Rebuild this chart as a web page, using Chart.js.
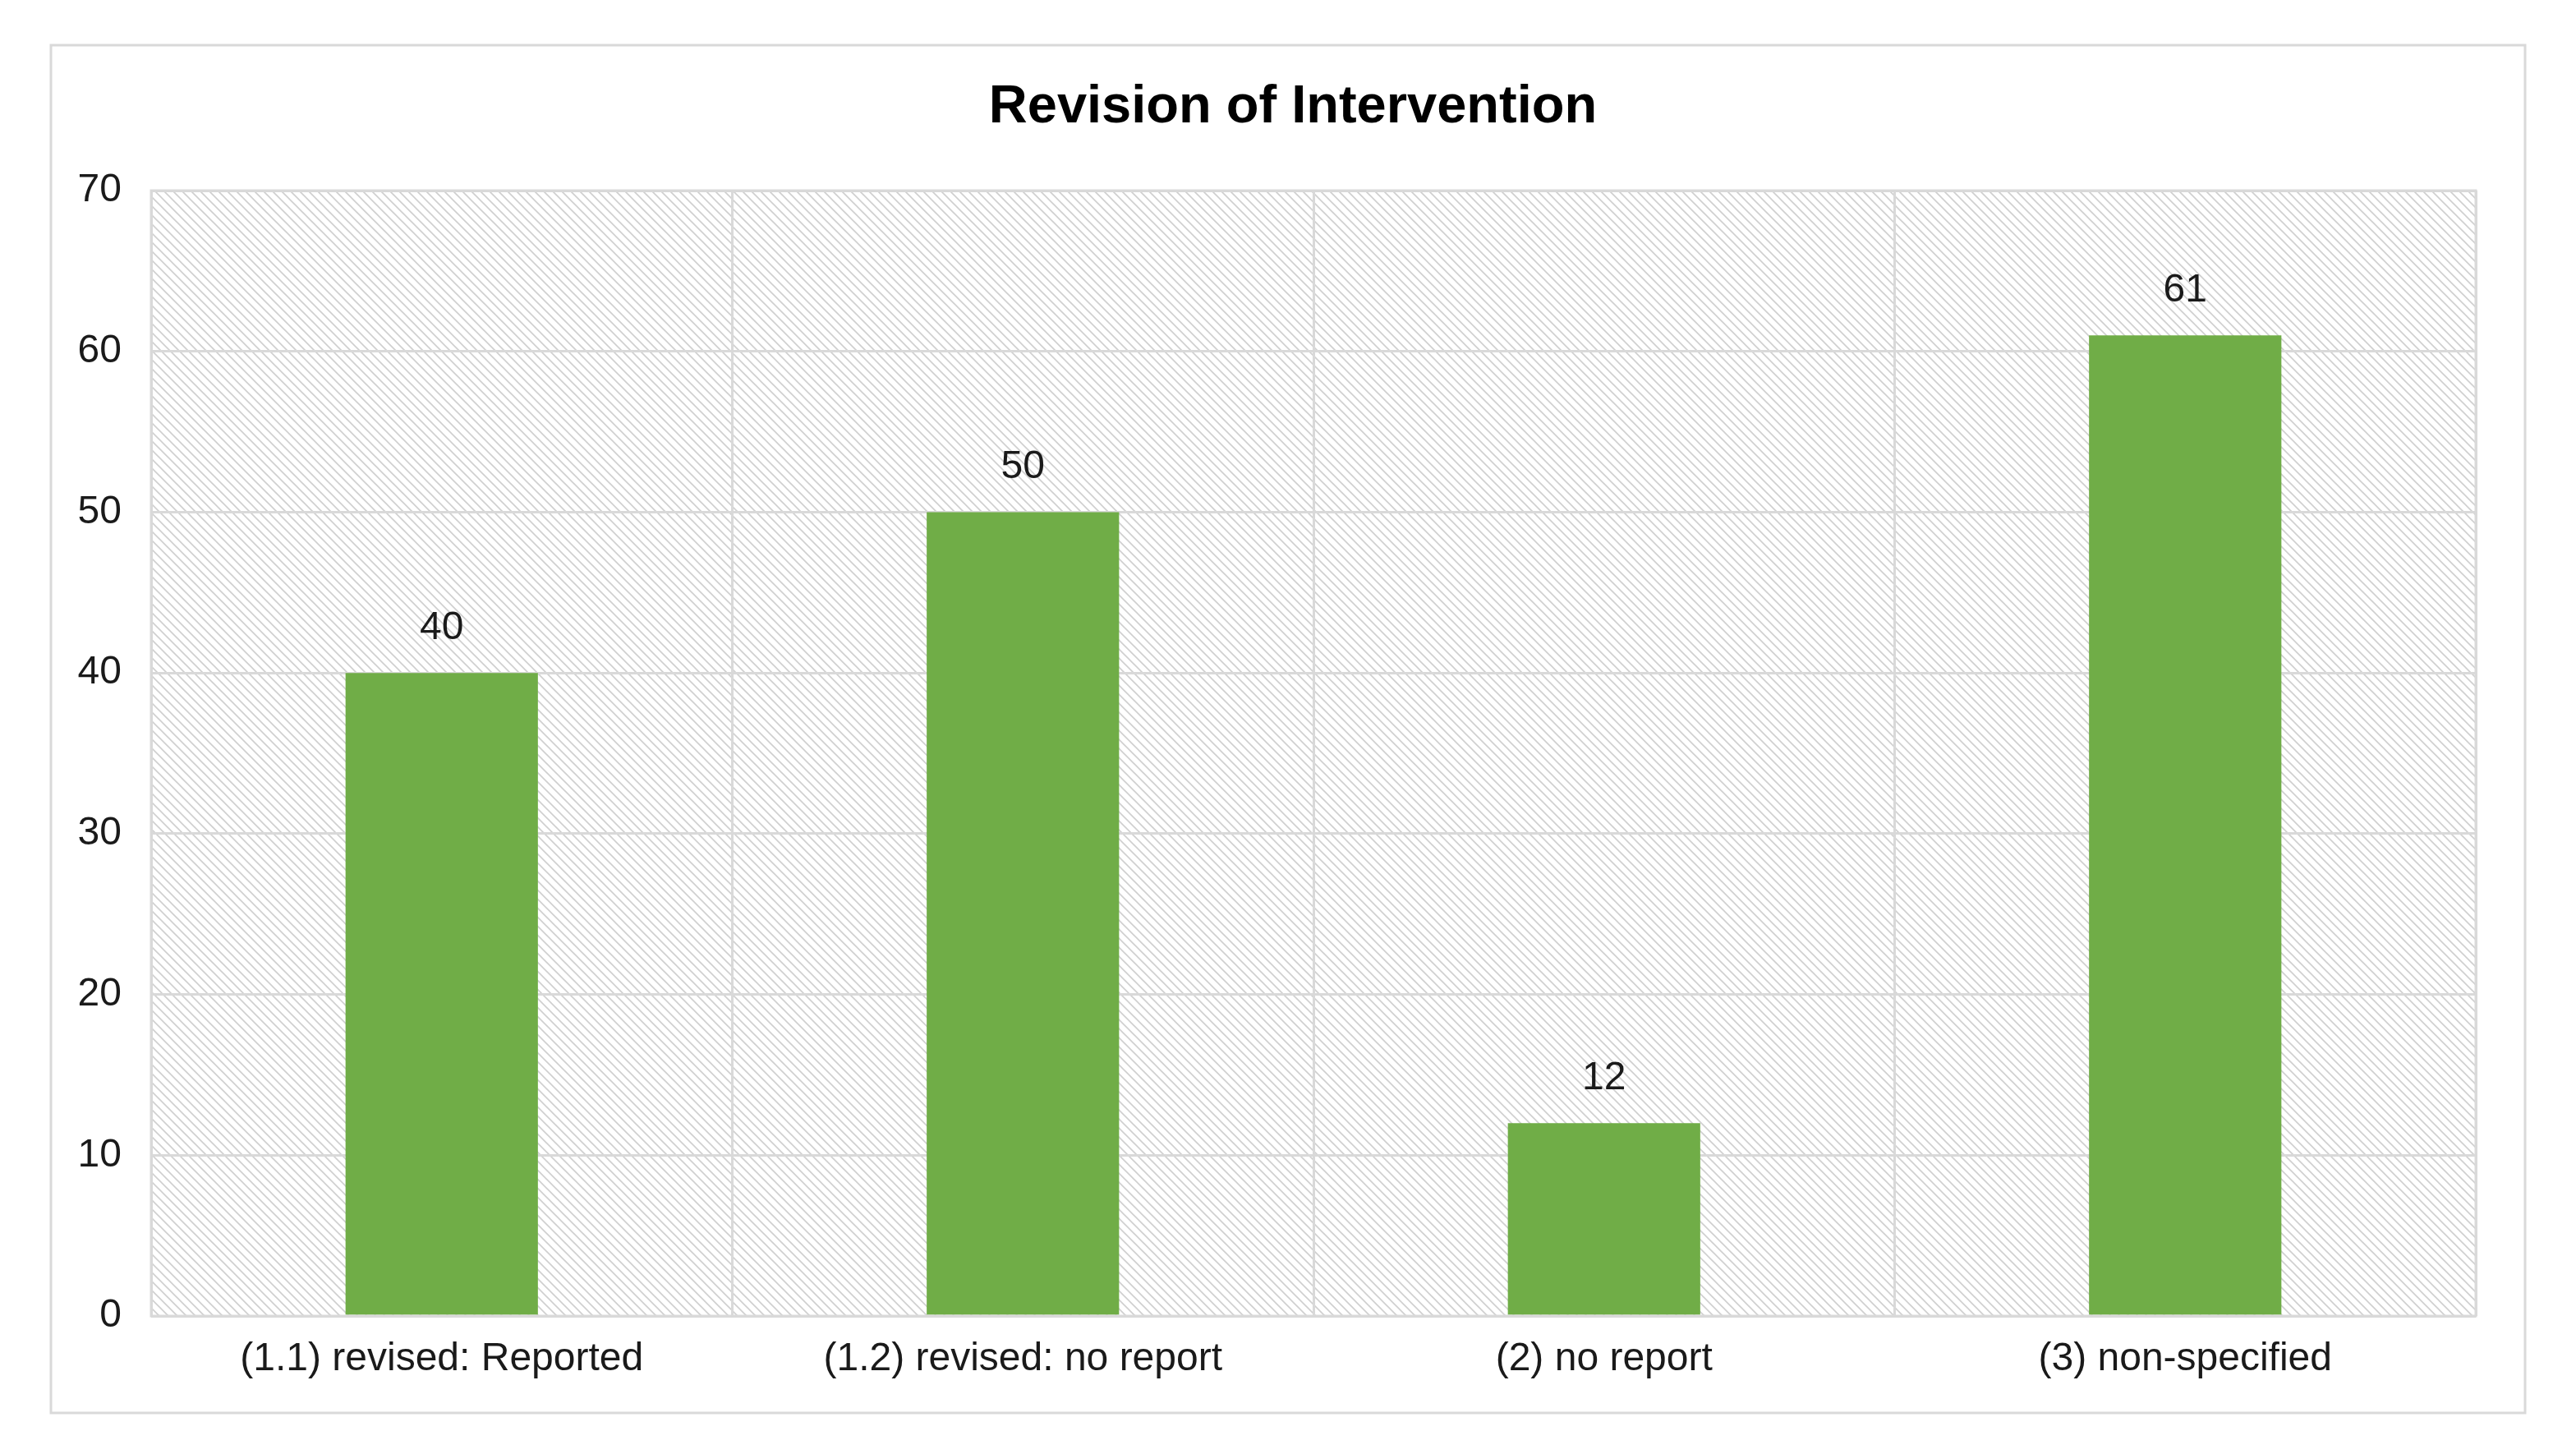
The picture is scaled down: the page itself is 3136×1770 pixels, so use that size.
<!DOCTYPE html>
<html>
<head>
<meta charset="utf-8">
<script src="https://cdn.jsdelivr.net/npm/chart.js@4/dist/chart.umd.min.js"></script>
<style>
html,body{margin:0;padding:0;background:#fff;}
#wrap{position:absolute;left:0;top:0;width:3136px;height:1770px;}
</style>
</head>
<body>
<div id="wrap"><canvas id="c" width="3136" height="1770"></canvas></div>
<script>
const categories = ["(1.1) revised: Reported", "(1.2) revised: no report", "(2) no report", "(3) non-specified"];
const values = [40, 50, 12, 61];
const yTicks = [0, 10, 20, 30, 40, 50, 60, 70];
const chartTitle = "Revision of Intervention";

const FONT = "'Liberation Sans', Arial, sans-serif";

function makeHatch(ctx) {
  const s = 11;
  const p = document.createElement('canvas');
  p.width = s; p.height = s;
  const g = p.getContext('2d');
  g.fillStyle = '#ffffff';
  g.fillRect(0, 0, s, s);
  g.strokeStyle = '#d0d0d0';
  g.lineWidth = 1.7;
  g.beginPath();
  g.moveTo(-2, -2); g.lineTo(s + 2, s + 2);
  g.moveTo(-2 - s, -2); g.lineTo(2, s + 2);
  g.moveTo(s - 2, -2); g.lineTo(2 * s + 2, s + 2);
  g.stroke();
  return ctx.createPattern(p, 'repeat');
}

const framePlugin = {
  id: 'frame',
  beforeDraw(chart) {
    const ctx = chart.ctx;
    ctx.save();
    ctx.fillStyle = '#fff';
    ctx.fillRect(0, 0, chart.width, chart.height);
    ctx.strokeStyle = '#d9d9d9';
    ctx.lineWidth = 3;
    ctx.strokeRect(62, 55, 3012, 1665);
    const a = chart.chartArea;
    ctx.fillStyle = makeHatch(ctx);
    ctx.fillRect(a.left, a.top, a.right - a.left, a.bottom - a.top);
    ctx.restore();
  },
  afterDraw(chart) {
    const ctx = chart.ctx;
    const a = chart.chartArea;
    ctx.save();
    ctx.strokeStyle = '#d9d9d9';
    ctx.lineWidth = 3;
    ctx.strokeRect(a.left, a.top, a.right - a.left, a.bottom - a.top);
    ctx.restore();
  }
};

const labelPlugin = {
  id: 'vals',
  afterDatasetsDraw(chart) {
    const ctx = chart.ctx;
    const meta = chart.getDatasetMeta(0);
    ctx.save();
    ctx.font = "48px " + FONT;
    ctx.fillStyle = '#1a1a1a';
    ctx.textAlign = 'center';
    ctx.textBaseline = 'alphabetic';
    meta.data.forEach((bar, i) => {
      ctx.fillText(String(values[i]), bar.x, bar.y - 41);
    });
    ctx.restore();
  }
};

new Chart(document.getElementById('c'), {
  type: 'bar',
  data: {
    labels: categories,
    datasets: [{
      data: values,
      backgroundColor: '#70ad47',
      borderWidth: 0,
      barPercentage: 0.331,
      categoryPercentage: 1.0
    }]
  },
  options: {
    responsive: false,
    animation: false,
    devicePixelRatio: 1,
    layout: { padding: { left: 60, right: 48, top: 72, bottom: 0 } },
    plugins: {
      legend: { display: false },
      tooltip: { enabled: false },
      title: {
        display: true,
        text: chartTitle,
        color: '#000',
        font: { family: FONT, size: 65, weight: 'bold', lineHeight: 1.2 },
        padding: { top: 20, bottom: 62 }
      }
    },
    scales: {
      x: {
        grid: { display: true, color: '#d9d9d9', lineWidth: 3, drawTicks: false, offset: true },
        border: { display: false },
        ticks: { color: '#1a1a1a', font: { family: FONT, size: 48 }, padding: 24, maxRotation: 0, autoSkip: false },
        afterFit(scale) { scale.height = 168; }
      },
      y: {
        min: 0, max: 70,
        afterBuildTicks(scale) { scale.ticks = yTicks.map(v => ({ value: v })); },
        grid: { color: '#d9d9d9', lineWidth: 3, drawTicks: false },
        border: { display: false },
        ticks: { color: '#1a1a1a', font: { family: FONT, size: 48 }, padding: 36 },
        afterFit(scale) { scale.width = 124; }
      },
      y2: {
        type: 'linear',
        position: 'right',
        display: true,
        min: 0, max: 70,
        grid: { display: false, drawTicks: false },
        border: { display: false },
        ticks: { display: false },
        afterFit(scale) { scale.width = 74; }
      }
    }
  },
  plugins: [framePlugin, labelPlugin]
});
</script>
</body>
</html>
